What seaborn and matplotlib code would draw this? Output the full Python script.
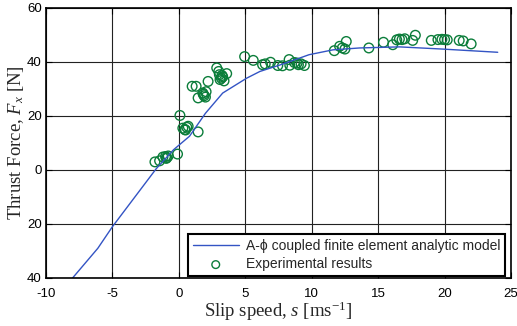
import numpy as np
import pandas as pd
import matplotlib
matplotlib.use("Agg")
import matplotlib.pyplot as plt
import seaborn as sns

# ---------- data ----------
# analytic model curve (slip speed m/s, thrust N)
model_speed = [-8.0, -6.1, -5.0, -1.7, -0.4, 0.8, 2.0, 3.3, 5.1, 6.1, 7.8,
               9.8, 11.6, 13.6, 16.6, 19.8, 24.0]
model_force = [-40.0, -29.0, -21.0, 0.5, 7.5, 12.5, 21.0, 28.5, 34.0, 36.5,
               39.2, 42.7, 44.5, 45.2, 45.6, 44.8, 43.6]

# experimental results
exp_speed = [-1.8, -1.45, -1.2, -1.0, -0.9, -0.8, -0.95, -0.1,
             0.08, 0.3, 0.45, 0.6, 0.7, 0.5, 1.45,
             1.0, 1.3, 1.45, 1.8, 1.9, 2.0, 1.85, 2.05, 2.2,
             2.85, 3.05, 3.2, 3.3, 3.1, 3.4, 3.6, 3.0, 3.25,
             4.95, 5.6, 6.3, 6.5, 6.9, 7.45, 7.8, 8.3, 8.35, 8.9, 9.0, 9.2, 9.45, 8.7,
             11.7, 12.1, 12.3, 12.6, 12.5, 14.3,
             15.4, 16.1, 16.4, 16.6, 16.8, 17.0, 17.6, 17.8,
             19.0, 19.5, 19.8, 20.0, 20.2, 21.1, 21.4, 22.0]
exp_force = [3.0, 3.4, 4.8, 5.0, 4.6, 5.2, 4.3, 5.9,
             20.2, 15.5, 15.0, 15.8, 16.2, 14.8, 14.1,
             31.0, 31.0, 26.7, 28.5, 27.5, 27.0, 28.0, 29.0, 32.8,
             37.8, 35.3, 34.0, 34.5, 33.5, 33.0, 35.7, 36.5, 35.0,
             42.0, 40.6, 39.0, 39.3, 39.9, 38.7, 38.6, 40.9, 38.8, 39.6, 39.0, 39.3, 38.7, 39.8,
             44.2, 45.8, 45.2, 47.6, 44.8, 45.2,
             47.3, 46.4, 48.2, 48.5, 48.3, 48.6, 48.0, 49.9,
             48.0, 48.3, 48.4, 48.3, 48.2, 48.0, 47.8, 46.7]

xticks = [-10, -5, 0, 5, 10, 15, 20, 25]
yticks = [-40, -20, 0, 20, 40, 60]
ytick_labels = ["40", "20", "0", "20", "40", "60"]

model_df = pd.DataFrame({"speed": model_speed, "force": model_force})
exp_df = pd.DataFrame({"speed": exp_speed, "force": exp_force})

# ---------- plot ----------
sns.set_style("ticks")
plt.rcParams["font.family"] = ["Liberation Sans", "DejaVu Sans"]
plt.rcParams["axes.unicode_minus"] = False
plt.rcParams["mathtext.fontset"] = "custom"
plt.rcParams["mathtext.rm"] = "Liberation Serif"
plt.rcParams["mathtext.it"] = "Liberation Serif:italic"

fig = plt.figure(figsize=(5.17, 3.26), dpi=100)
ax = fig.add_axes([46 / 517, 1 - 278 / 326, 465 / 517, 270 / 326])

ax.grid(True, color="#222222", linewidth=0.8, linestyle="-")
ax.set_axisbelow(True)

sns.lineplot(data=model_df, x="speed", y="force", ax=ax, color="#3354c4",
             linewidth=1.0, sort=False,
             label="A-\u03d5 coupled finite element analytic model")
sns.scatterplot(data=exp_df, x="speed", y="force", ax=ax, marker="o",
                facecolor="none", edgecolor="#0b7d3a", linewidth=1.0, s=48,
                label="Experimental results")

ax.set_xlim(-10, 25)
ax.set_ylim(-40, 60)
ax.set_xticks(xticks)
ax.set_yticks(yticks)
ax.set_yticklabels(ytick_labels)
ax.tick_params(direction="in", labelsize=9.5, length=4, width=0.8,
               top=True, right=True, colors="black", pad=3)
ax.tick_params(axis="x", pad=7)
for sp in ax.spines.values():
    sp.set_linewidth(1.2)
    sp.set_color("black")

ax.set_xlabel("Slip speed, $s$ [ms$^{\\mathregular{-1}}$]",
              family="Liberation Serif", fontsize=13.5, labelpad=0)
ax.set_ylabel("Thrust Force, $F_x$ [N]", family="Liberation Serif",
              fontsize=13.5, labelpad=1)

leg = ax.legend(loc="lower right", bbox_to_anchor=(0.987, 0.007),
                fontsize=10, frameon=True, fancybox=False,
                borderaxespad=0, handlelength=3.3, handletextpad=0.5,
                borderpad=0.35, labelspacing=0.3, markerscale=0.8)
leg.get_frame().set_edgecolor("black")
leg.get_frame().set_linewidth(1.5)
leg.get_frame().set_alpha(1)

fig.savefig("out.png", dpi=100)
